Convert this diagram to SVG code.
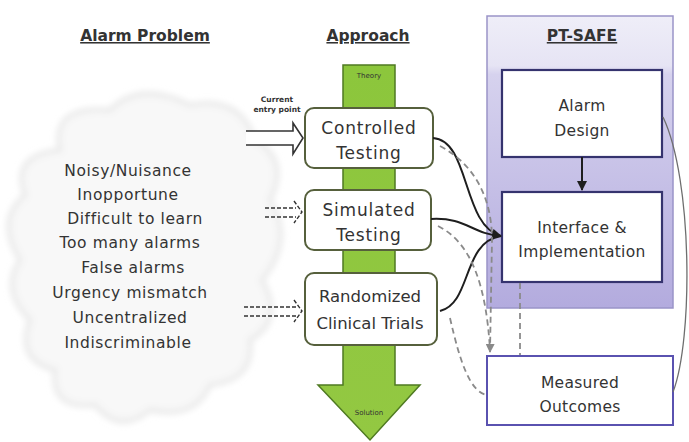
<svg xmlns="http://www.w3.org/2000/svg" width="689" height="442" viewBox="0 0 689 442">
<style>
.t{font-family:"DejaVu Sans","Liberation Sans",sans-serif;fill:#333;text-anchor:middle}
.h{font-family:"DejaVu Sans","Liberation Sans",sans-serif;font-weight:bold;font-size:15.5px;fill:#333;text-anchor:middle;text-decoration:underline}
.lst{font-size:15.5px;letter-spacing:0.6px}
.bx{font-size:17px;letter-spacing:0.8px}
.bxn{font-size:16.5px;letter-spacing:0px}
.pb{font-size:15.5px;letter-spacing:0.3px}
.ab{fill:#fff;stroke:#56603c;stroke-width:2}
.pt{fill:#fff;stroke:#35336e;stroke-width:2.2}
.sol{fill:none;stroke:#1e1e1e;stroke-width:2}
.dash{fill:none;stroke:#8a8a8a;stroke-width:1.8;stroke-dasharray:6 4}
.ent{fill:#fff;stroke:#333;stroke-width:1.6}
.entd{fill:none;stroke:#333;stroke-width:1.4;stroke-dasharray:4 2}
</style>
<defs>
<linearGradient id="pg" x1="0" y1="0" x2="0" y2="1">
<stop offset="0" stop-color="#efeef8"/>
<stop offset="0.17" stop-color="#e6e4f4"/>
<stop offset="0.2" stop-color="#d6d2ee"/>
<stop offset="1" stop-color="#b3abde"/>
</linearGradient>
<linearGradient id="gg" x1="0" y1="0" x2="0" y2="1">
<stop offset="0" stop-color="#8cc63c"/>
<stop offset="1" stop-color="#93c842"/>
</linearGradient>
<filter id="blur" x="-10%" y="-10%" width="120%" height="120%"><feGaussianBlur stdDeviation="3"/></filter>
<marker id="ah" viewBox="0 0 10 10" refX="9" refY="5" markerWidth="5" markerHeight="5" orient="auto"><path d="M0,0 L10,5 L0,10 Z" fill="#1e1e1e"/></marker>
<marker id="ahg" viewBox="0 0 10 10" refX="9" refY="5" markerWidth="5" markerHeight="5" orient="auto"><path d="M0,0 L10,5 L0,10 Z" fill="#8a8a8a"/></marker>
</defs>
<rect width="689" height="442" fill="#fff"/>

<g id="alarm-problem">
<path d="M60,150 Q50,105 110,110 Q140,80 190,105 Q240,95 255,140 Q290,160 270,200 Q295,240 262,280 Q285,320 250,340 Q255,380 210,385 Q195,420 150,410 Q120,435 95,405 Q50,410 55,370 Q15,360 30,320 Q0,290 20,260 Q-5,220 25,195 Q10,155 60,150 Z" fill="#f8f8f8" stroke="#e6e6e6" stroke-width="4" filter="url(#blur)"/>
<text class="h" x="145" y="41">Alarm Problem</text>
<text class="t lst" x="128" y="176">Noisy/Nuisance</text>
<text class="t lst" x="128" y="200">Inopportune</text>
<text class="t lst" x="135" y="224">Difficult to learn</text>
<text class="t lst" x="130" y="248">Too many alarms</text>
<text class="t lst" x="133" y="273">False alarms</text>
<text class="t lst" x="130" y="298">Urgency mismatch</text>
<text class="t lst" x="130" y="323">Uncentralized</text>
<text class="t lst" x="128" y="348">Indiscriminable</text>
</g>

<g id="approach">
<text class="h" x="368" y="41">Approach</text>
<path d="M343,65 H395 V385 H420 L370,440 L318,385 H343 Z" fill="url(#gg)" stroke="#4f7a22" stroke-width="1.5"/>
<text class="t" x="369" y="78" font-size="7" fill="#2f4a10">Theory</text>
<text class="t" x="369" y="415" font-size="7" fill="#2f4a10">Solution</text>
</g>

<g id="controlled-testing">
<rect class="ab" x="305" y="108" width="128" height="60" rx="9"/>
<text class="t bx" x="369" y="134">Controlled</text>
<text class="t bx" x="369" y="159">Testing</text>
</g>
<g id="simulated-testing">
<rect class="ab" x="305" y="190" width="126" height="60" rx="9"/>
<text class="t bx" x="369" y="216">Simulated</text>
<text class="t bx" x="369" y="241">Testing</text>
</g>
<g id="randomized-trials">
<rect class="ab" x="305" y="273" width="132" height="72" rx="9"/>
<text class="t bxn" x="370" y="302">Randomized</text>
<text class="t bxn" x="370" y="329">Clinical Trials</text>
</g>

<g id="entry-arrows">
<text class="t" x="277" y="102" font-size="7.5" font-weight="bold">Current</text>
<text class="t" x="277" y="112" font-size="7.5" font-weight="bold">entry point</text>
<path class="ent" d="M246,131 H293 V123 L303,138 L293,154 V145 H246"/>
<path class="entd" d="M265,208 H296 M265,217 H296 M294,201 L302,212 L294,223"/>
<path class="entd" d="M244,307 H296 M244,316 H296 M294,300 L302,311 L294,322"/>
</g>

<g id="pt-safe">
<rect x="487" y="16" width="186" height="292" fill="url(#pg)" stroke="#9a94c8" stroke-width="1.5"/>
<text class="h" x="582" y="41">PT-SAFE</text>
</g>
<g id="alarm-design">
<rect class="pt" x="502" y="70" width="160" height="87"/>
<text class="t pb" x="582" y="111">Alarm</text>
<text class="t pb" x="582" y="136">Design</text>
</g>
<g id="interface">
<rect class="pt" x="502" y="192" width="160" height="90"/>
<text class="t pb" x="582" y="233">Interface &amp;</text>
<text class="t pb" x="582" y="257">Implementation</text>
</g>
<g id="measured-outcomes">
<rect x="487" y="356" width="186" height="69" fill="#fff" stroke="#5a52b0" stroke-width="2"/>
<text class="t pb" x="580" y="388">Measured</text>
<text class="t pb" x="580" y="412">Outcomes</text>
</g>

<g id="connectors">
<path class="sol" d="M582,157 V190" marker-end="url(#ah)"/>
<path class="sol" d="M433,138 C470,140 462,226 501,236" marker-end="url(#ah)"/>
<path class="sol" d="M431,219 C466,217 472,234 501,236"/>
<path class="sol" d="M440,311 C472,303 462,242 501,236"/>
<path class="dash" d="M440,146 C476,165 492,200 492,240 L490,352" marker-end="url(#ahg)"/>
<path class="dash" d="M438,226 C470,242 486,282 490,350"/>
<path class="dash" d="M450,318 C460,362 470,392 487,395"/>
<path class="dash" d="M520,283 V355"/>
<path d="M663,117 C693,180 693,340 673,392" fill="none" stroke="#6e6e6e" stroke-width="1.3"/>
</g>
</svg>
